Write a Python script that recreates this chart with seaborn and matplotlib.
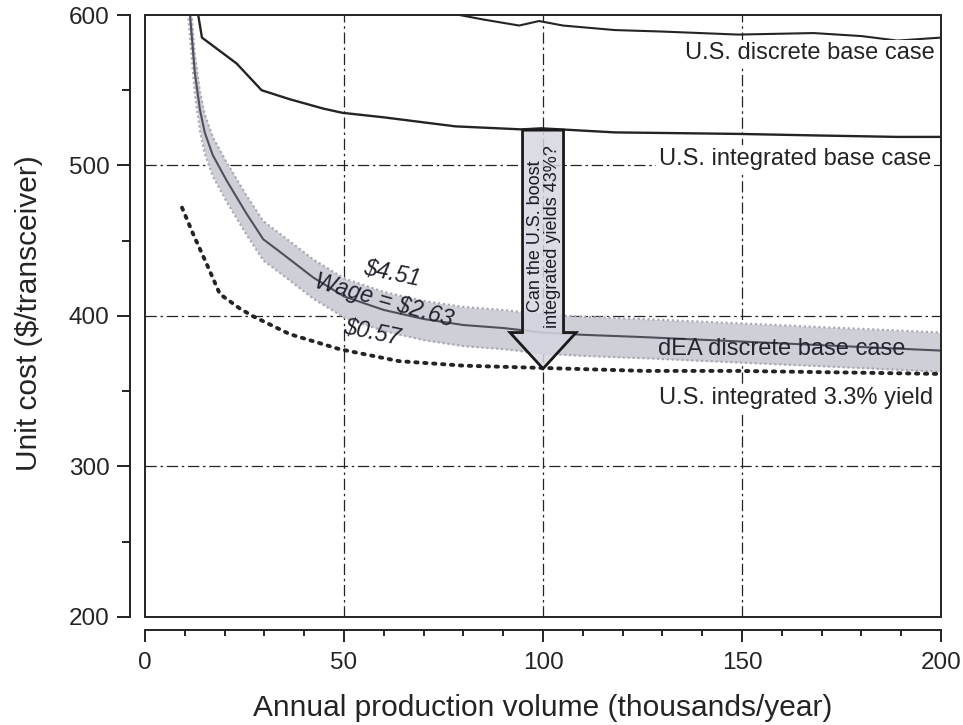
import matplotlib
matplotlib.use("Agg")
import matplotlib.pyplot as plt
from matplotlib.patches import FancyArrow, Rectangle
import seaborn as sns
import pandas as pd

# ---- data (unit cost, $/transceiver, vs annual volume, thousands/year) ----
vol_us_discrete = [78, 85, 94, 99, 105, 118, 130, 149, 168, 180, 189, 200]
cost_us_discrete = [600.5, 597, 593, 596, 593, 590, 589, 587, 588, 586, 583, 585]

vol_us_integrated = [13.3, 14.3, 23, 29.3, 36.4, 44.8, 49.6, 60, 78, 94.6, 99.6,
                     118, 149, 168, 189, 200]
cost_us_integrated = [601, 585, 567.8, 550, 544, 537.8, 535, 532, 526, 524, 524.7,
                      522, 521, 520, 519, 519]

vol_dea = [10.8, 11.3, 12.5, 13.8, 15, 17, 20.5, 25.5, 29.7, 34.7, 42.3, 50, 60,
           70, 80, 90, 100, 110, 125, 150, 175, 200]
cost_dea = [615, 600, 562, 537, 522, 507, 490, 468, 451, 441, 425.5, 413, 404,
            398, 394, 392, 389, 387.5, 386, 383, 380, 377]
# wage sensitivity band around the dEA curve ($4.51 above, $0.57 below)
band_above = 12
band_below = 14

vol_us_yield = [9.3, 12, 15.5, 18.8, 23.8, 27, 36.3, 48.8, 63.8, 80, 99.6, 125.6,
                149, 175, 200]
cost_us_yield = [472, 455, 434.5, 414.6, 405, 400, 388, 378, 370, 367, 365.5,
                 363.5, 363.5, 362.5, 361.5]

x_ticks = [0, 50, 100, 150, 200]
y_ticks = [200, 300, 400, 500, 600]

sns.set_style("white")
plt.rcParams["font.family"] = ["Liberation Sans", "DejaVu Sans"]

INK = "#242424"
fig = plt.figure(figsize=(9.63, 7.25), dpi=100)
ax = fig.add_axes([0.1506, 0.149, 0.8266, 0.8303])
ax.set_xlim(0, 200)
ax.set_ylim(200, 600)

# dash-dot reference grid
grid_style = dict(color=INK, lw=0.9, linestyle=(0, (9, 3, 2, 3)), zorder=0.5)
for gx in x_ticks[1:-1]:
    ax.axvline(gx, **grid_style)
for gy in y_ticks[1:-1]:
    ax.axhline(gy, **grid_style)

# dEA discrete base case with wage band
dea = pd.DataFrame({"vol": vol_dea, "cost": cost_dea})
lo = dea["cost"] - band_below
hi = dea["cost"] + band_above
ax.fill_between(dea["vol"], lo, hi, color="#cfcfd8", lw=0, zorder=1)
for edge in (lo, hi):
    ax.plot(dea["vol"], edge, color="#ababb6", lw=1.6,
            linestyle=(0, (1, 1.2)), zorder=1.1)
sns.lineplot(data=dea, x="vol", y="cost", ax=ax, color="#50505c", lw=1.5,
             estimator=None, zorder=1.2)

# U.S. curves
sns.lineplot(x=vol_us_discrete, y=cost_us_discrete, ax=ax, color=INK, lw=1.5,
             estimator=None, zorder=2)
sns.lineplot(x=vol_us_integrated, y=cost_us_integrated, ax=ax, color=INK, lw=1.7,
             estimator=None, zorder=2)
sns.lineplot(x=vol_us_yield, y=cost_us_yield, ax=ax, color=INK, lw=2.8,
             linestyle=(0, (0.6, 1.7)), dash_capstyle="round",
             estimator=None, zorder=2)

# question arrow from the integrated base case down to the 3.3% yield curve
arrow_x = 100
arrow_top = 523.5
arrow_tip = 365
ax.add_patch(FancyArrow(arrow_x, arrow_top, 0, arrow_tip - arrow_top,
                        width=10.3, head_width=16.6, head_length=24,
                        length_includes_head=True,
                        facecolor=(0.84, 0.84, 0.88, 0.85), edgecolor="#1a1a1a",
                        lw=2.0, joinstyle="miter", zorder=3))
ax.text(arrow_x + 0.2, 453, "Can the U.S. boost\nintegrated yields 43%?",
        rotation=90, ha="center", va="center", fontsize=13, linespacing=0.95,
        color="#1c1c28", zorder=4)

# curve labels
white = dict(facecolor="white", edgecolor="none", pad=2)
ax.text(198.5, 574.5, "U.S. discrete base case", ha="right", va="center",
        fontsize=17, color=INK, bbox=white, zorder=5)
ax.text(197.5, 504.5, "U.S. integrated base case", ha="right", va="center",
        fontsize=17, color=INK, bbox=white, zorder=5)
ax.text(160, 378, "dEA discrete base case", ha="center", va="center",
        fontsize=17, color="#262632", zorder=5)
ax.text(198, 345.5, "U.S. integrated 3.3% yield", ha="right", va="center",
        fontsize=17, color=INK, bbox=white, zorder=5)

# wage labels along the band
wage_kw = dict(ha="center", va="center", fontsize=16.5, style="italic",
               color="#22222e", rotation_mode="anchor", zorder=5)
ax.text(62, 428, "$4.51", rotation=-12, **wage_kw)
ax.text(60, 410, "Wage = $2.63", rotation=-16, **wage_kw)
ax.text(57, 389, "$0.57", rotation=-12, **wage_kw)

# frame around the plotting area
ax.add_patch(Rectangle((0, 0), 1, 1, transform=ax.transAxes, fill=False,
                       lw=1.4, edgecolor=INK, clip_on=False, zorder=6))

# detached axes
for side in ("top", "right"):
    ax.spines[side].set_visible(False)
ax.spines["left"].set_position(("outward", 10.8))
ax.spines["bottom"].set_position(("outward", 9.4))
for side in ("left", "bottom"):
    ax.spines[side].set_linewidth(1.4)
    ax.spines[side].set_color(INK)

ax.set_xticks(x_ticks)
ax.set_xticks(range(10, 200, 10), minor=True)
ax.set_yticks(y_ticks)
ax.set_yticks([250, 350, 450, 550], minor=True)
ax.tick_params(axis="both", which="both", direction="out", color=INK, width=1.4,
               labelsize=17.5, labelcolor=INK)
ax.tick_params(axis="y", which="major", length=9.4, pad=5.5, left=True)
ax.tick_params(axis="y", which="minor", length=5.8, left=True)
ax.tick_params(axis="x", which="major", length=8.6, pad=7, bottom=True)
ax.tick_params(axis="x", which="minor", length=4.3, bottom=True)

ax.set_xlabel("Annual production volume (thousands/year)", fontsize=21.5, color=INK)
ax.set_ylabel("Unit cost ($/transceiver)", fontsize=21.5, color=INK)
ax.xaxis.set_label_coords(0.5, -0.151)
ax.xaxis.label.set_va("center")
ax.yaxis.set_label_coords(-0.146, 0.505)
ax.yaxis.label.set_va("center")

fig.savefig("out.png", dpi=100)
